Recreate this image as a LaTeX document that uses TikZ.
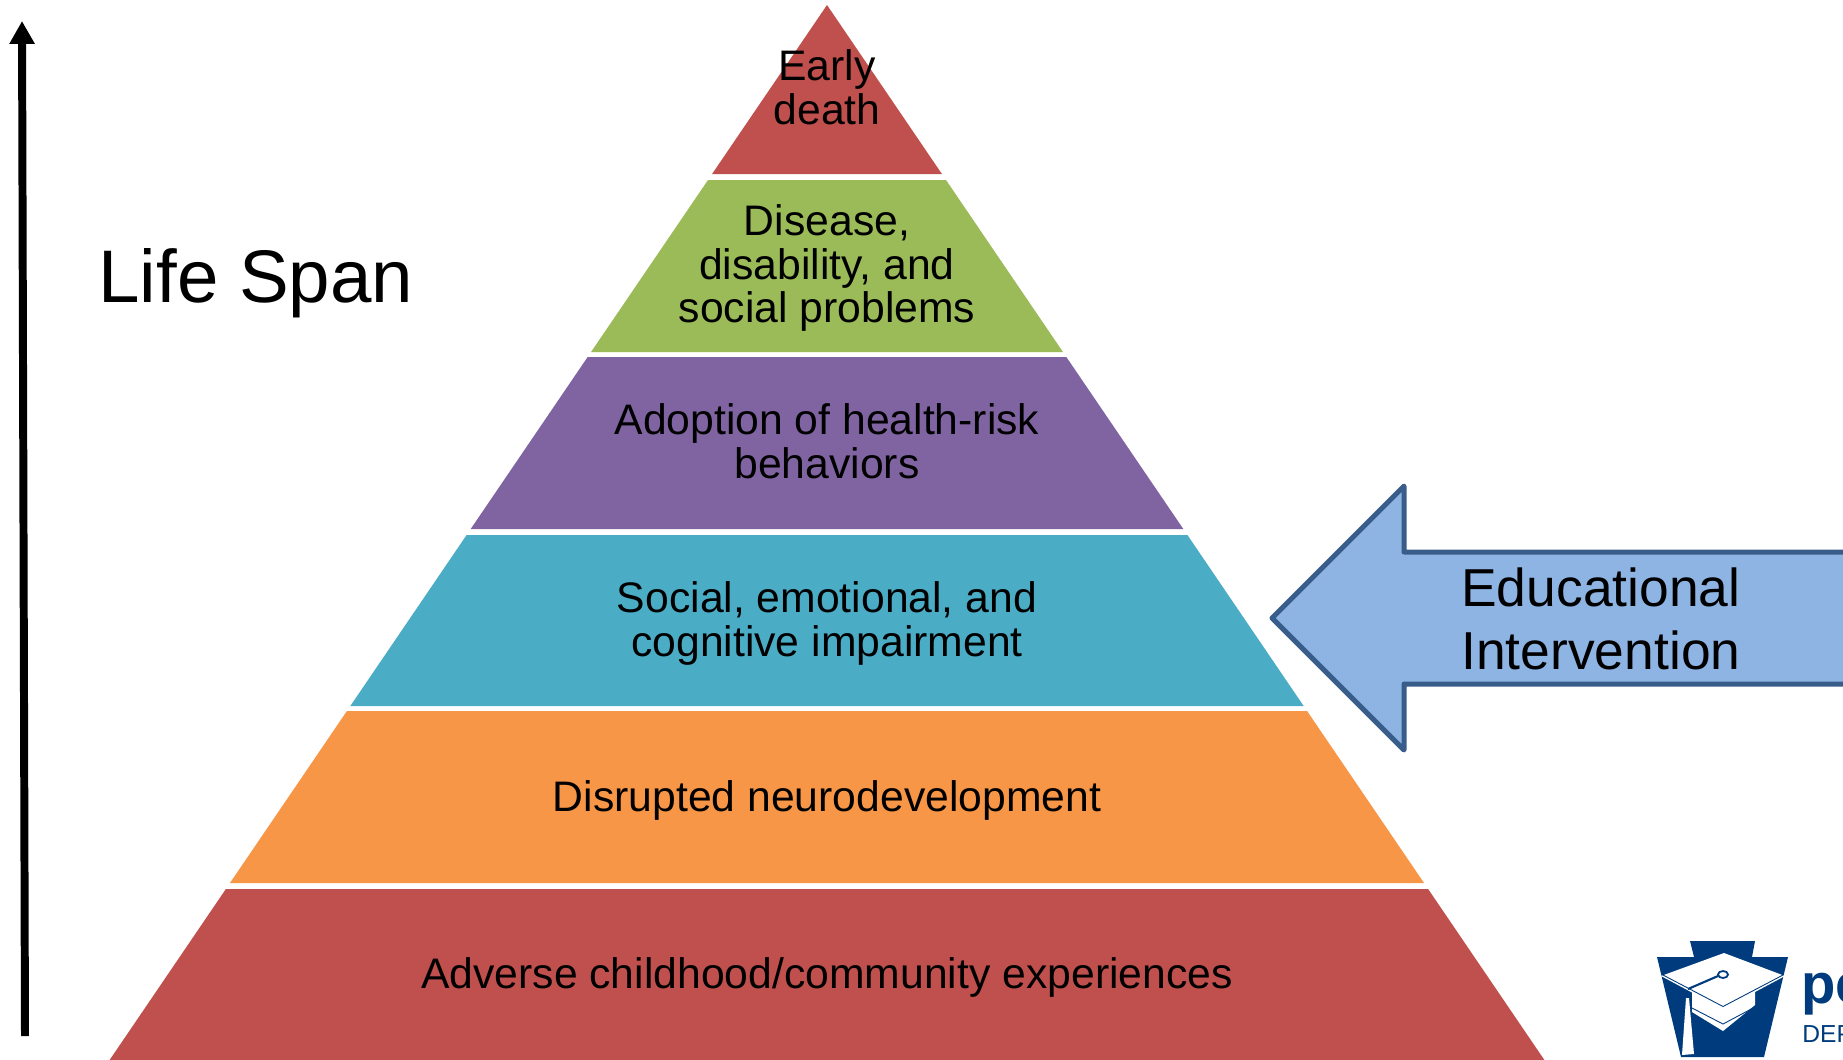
\documentclass[tikz,border=0pt]{standalone}
\usepackage{fontspec}
\setmainfont{Liberation Sans}
\usepackage{tikz}
\usetikzlibrary{arrows.meta}
\definecolor{layerRed}{HTML}{C0504D}
\definecolor{layerGreen}{HTML}{9BBB59}
\definecolor{layerPurple}{HTML}{8064A2}
\definecolor{layerTeal}{HTML}{4BACC6}
\definecolor{layerOrange}{HTML}{F79646}
\definecolor{interFill}{HTML}{8EB4E3}
\definecolor{interLine}{HTML}{385D8A}
\definecolor{logoBlue}{HTML}{003C7D}
\tikzset{
	layertext/.style={align=center,font=\fontsize{24.3}{25}\selectfont},
	spanline/.style={line width=8*0.5669pt,-{Triangle[width=24*0.5669pt,length=23*0.5669pt]}},
}

\begin{document}
\begin{tikzpicture}[x=0.02cm,y=-0.02cm]
		\def\cx{827}
		\def\s{0.68}
		
		\clip (0,0) rectangle (1843,1059);
		
		\foreach \t/\b/\c/\m/\n/\l in {
			5/174/layerRed/87/death/{Early\\death},
			180/352/layerGreen/268/disease/{Disease,\\disability, and\\social problems},
			357/529/layerPurple/441/adoption/{Adoption of health-risk\\behaviors},
			535/706/layerTeal/623/impairment/{Social, emotional, and\\cognitive impairment},
			711/883/layerOrange/800/neuro/{Disrupted neurodevelopment},
			889/1070/layerRed/977/adverse/{Adverse childhood/community experiences}}{
			\fill[\c] ({\cx-\s*(\t-5)},\t) -- ({\cx+\s*(\t-5)},\t) -- ({\cx+\s*(\b-5)},\b) -- ({\cx-\s*(\b-5)},\b) -- cycle;
			\node[layertext] (L-\n) at (\cx,\m) {\l};
		}
		
		% life span
		\coordinate (spanStart) at (25,1036);
		\coordinate (spanTip) at (22,21);
		\draw[spanline] (spanStart) -- (spanTip);
		\node[anchor=west,inner sep=0pt,font=\fontsize{42.4}{50}\selectfont] (lifeSpan) at (98,283) {Life Span};
		
		% intervention
		\draw[interLine,fill=interFill,line width=5*0.5669pt,line join=round] (1272,618) -- (1404,486) -- (1404,552) -- (1860,552) -- (1860,684) -- (1404,684) -- (1404,750) -- cycle;
		\node[anchor=west,inner sep=0pt,align=left,font=\fontsize{30.4}{36.3}\selectfont] (education) at (1461,619) {Educational\\Intervention};
		
		% logo
		\fill[logoBlue] (1690,941) -- (1755,941) -- (1752,957) -- (1788,957) -- (1764,1057) -- (1681,1057) -- (1657,957) -- (1694,957) -- cycle;
		\fill[white] (1692,990) -- (1755,990) -- (1755,1005) -- (1723,1031) -- (1692,1012) -- cycle;
		\fill[white] (1724,953) -- (1785,976) -- (1723,1009) -- (1661,976) -- cycle;
		\draw[logoBlue,line width=0.5pt] (1663,975) -- (1723,1006.5) -- (1783,975);
		\draw[logoBlue,line width=0.5pt] (1692,1008) -- (1723,1024) -- (1755,1007);
		\draw[logoBlue,line width=1.2pt] (1688,989) -- (1718,976);
		\draw[logoBlue,fill=white,line width=1pt] (1723,974.5) ellipse (5 and 3.5);
		\fill[white] (1686,998) -- (1689,998) -- (1694,1054) -- (1682,1055) -- cycle;
		\node[anchor=base west,inner sep=0pt,text=logoBlue,font=\fontsize{32}{32}\selectfont\bfseries] (logoName) at (1801,1003) {pe};
		\node[anchor=base west,inner sep=0pt,text=logoBlue,font=\fontsize{14}{14}\selectfont] (logoDept) at (1802,1042) {DEP};
\end{tikzpicture}
\end{document}
